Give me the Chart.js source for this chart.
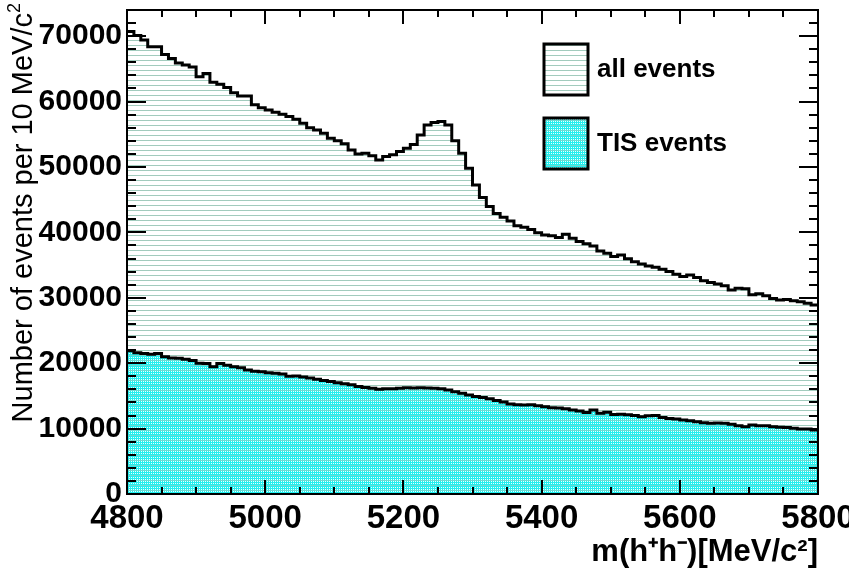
<!DOCTYPE html>
<html><head><meta charset="utf-8">
<script src="https://cdn.jsdelivr.net/npm/chart.js@4/dist/chart.umd.min.js"></script>
<style>html,body{margin:0;padding:0;background:#fff;} canvas{display:block;}</style>
</head><body>
<canvas id="c" width="849" height="575"></canvas>
<script>
// ---- data ----
const binLowEdges = Array.from({length: 100}, (_, i) => 4800 + 10 * i); // 10 MeV bins
const massMax = 5800;
const allEvents = [
  70700, 70100, 69400, 68400, 68400, 67200, 66600, 65900, 65600, 65300,
  63800, 64300, 62950, 62650, 62150, 61350, 60850, 60850, 59500, 59050,
  58700, 58350, 58050, 57700, 57300, 56700, 56000, 55650, 55150, 54400,
  54000, 53550, 52600, 52000, 52100, 51700, 51050, 51600, 51850, 52350,
  52850, 53450, 54900, 56400, 56800, 56950, 56400, 54000, 52100, 49800,
  47250, 45350, 43950, 42900, 42300, 41750, 41000, 40800, 40450, 39950,
  39600, 39500, 39200, 39700, 39100, 38600, 38250, 37900, 37150, 36800,
  36300, 36550, 35950, 35500, 35150, 34850, 34650, 34350, 34000, 33600,
  33250, 33500, 33100, 32600, 32350, 32100, 31850, 31200, 31450, 31400,
  30450, 30600, 30300, 29900, 29650, 29750, 29550, 29400, 29150, 28900
];
const tisEvents = [
  21900, 21600, 21500, 21350, 21500, 21000, 20800, 20750, 20600, 20400,
  20000, 19950, 19450, 19950, 19700, 19450, 19300, 18950, 18750, 18700,
  18550, 18450, 18350, 18000, 18050, 17900, 17750, 17550, 17350, 17200,
  17000, 16850, 16700, 16450, 16300, 16150, 16000, 16100, 16100, 16150,
  16250, 16200, 16250, 16200, 16150, 16100, 15900, 15650, 15400, 15150,
  14900, 14750, 14550, 14300, 14050, 13750, 13650, 13600, 13650, 13500,
  13350, 13200, 13150, 13050, 12850, 12700, 12450, 12850, 12350, 12500,
  12150, 12200, 12100, 12000, 11800, 11950, 12000, 11700, 11550, 11450,
  11300, 11200, 11050, 10900, 10800, 10850, 10800, 10650, 10450, 10300,
  10550, 10450, 10450, 10300, 10200, 10150, 10050, 9950, 9950, 9800
];
const xTickValues = [4800, 5000, 5200, 5400, 5600, 5800];
const yTickValues = [0, 10000, 20000, 30000, 40000, 50000, 60000, 70000];
const seriesNames = ['all events', 'TIS events'];
const xTitle = 'm(h\u207Ah\u207B)[MeV/c\u00B2]';
const yTitleMain = 'Number of events per 10 MeV/c';
const yTitleSup = '2';

// ---- styling ----
const FONT = '"Liberation Sans", Arial, Helvetica, sans-serif';
const canvas = document.getElementById('c');
const ctx = canvas.getContext('2d');

function makeHatch() {
  const c = document.createElement('canvas'); c.width = 10; c.height = 10;
  const g = c.getContext('2d');
  g.fillStyle = '#a2cbbd';
  g.fillRect(0, 0, 10, 1); g.fillRect(0, 5, 10, 1);
  return ctx.createPattern(c, 'repeat');
}
function makeDots() {
  // opaque tile: cyan with fine white dots, green hatch rows showing through
  const c = document.createElement('canvas'); c.width = 10; c.height = 10;
  const g = c.getContext('2d');
  g.fillStyle = '#22f0f0'; g.fillRect(0, 0, 10, 10);
  g.fillStyle = '#e8ffff';
  for (let yy = 1; yy < 10; yy += 2) {
    if (yy === 5) continue;
    for (let xx = 1; xx < 10; xx += 2) g.fillRect(xx, yy, 1, 1);
  }
  g.fillStyle = '#6fd9d0';
  g.fillRect(0, 0, 10, 1); g.fillRect(0, 5, 10, 1);
  return ctx.createPattern(c, 'repeat');
}
const hatchPat = makeHatch();
const dotsPat = makeDots();

function toSteps(values) {
  const pts = binLowEdges.map((x, i) => ({x, y: values[i]}));
  pts.push({x: massMax, y: values[values.length - 1]});
  return pts;
}

const rootFrame = {
  id: 'rootFrame',
  afterDatasetsDraw(chart) {
    const {ctx, chartArea: a, scales: {x, y}} = chart;
    ctx.save();
    ctx.strokeStyle = '#000'; ctx.lineWidth = 2;
    ctx.beginPath();
    for (let v = 0; v <= y.max; v += 2000) {
      const py = Math.round(y.getPixelForValue(v));
      const len = (v % 10000 === 0) ? 19 : 9;
      ctx.moveTo(a.left, py); ctx.lineTo(a.left + len, py);
      ctx.moveTo(a.right, py); ctx.lineTo(a.right - len, py);
    }
    for (let v = x.min; v <= x.max; v += 50) {
      const px = Math.round(x.getPixelForValue(v));
      const len = ((v - 4800) % 200 === 0) ? 14 : 7;
      ctx.moveTo(px, a.bottom); ctx.lineTo(px, a.bottom - len);
      ctx.moveTo(px, a.top); ctx.lineTo(px, a.top + len);
    }
    ctx.stroke();
    ctx.strokeRect(a.left, a.top, a.right - a.left, a.bottom - a.top);
    ctx.restore();
  },
  afterDraw(chart) {
    const {ctx} = chart;
    ctx.save();
    // legend
    const boxes = [
      {y: 44, pat: hatchPat, text: seriesNames[0]},
      {y: 118, pat: dotsPat, text: seriesNames[1]}
    ];
    boxes.forEach(b => {
      ctx.fillStyle = '#fff'; ctx.fillRect(544, b.y, 44, 51);
      ctx.fillStyle = b.pat; ctx.fillRect(544, b.y, 44, 51);
      ctx.strokeStyle = '#000'; ctx.lineWidth = 3;
      ctx.strokeRect(544, b.y, 44, 51);
      ctx.fillStyle = '#000';
      ctx.font = 'bold 26px ' + FONT;
      ctx.textBaseline = 'middle'; ctx.textAlign = 'left';
      ctx.fillText(b.text, 597, b.y + 26);
    });
    // y-axis title (rotated, with superscript)
    ctx.translate(24, 3);
    ctx.rotate(-Math.PI / 2);
    ctx.fillStyle = '#000';
    ctx.textBaseline = 'middle'; ctx.textAlign = 'left';
    ctx.font = '18px ' + FONT;
    const ws = ctx.measureText(yTitleSup).width;
    ctx.font = '29px ' + FONT;
    const wm = ctx.measureText(yTitleMain).width;
    ctx.fillText(yTitleMain, -(wm + ws), 0);
    ctx.font = '18px ' + FONT;
    ctx.fillText(yTitleSup, -ws, -9);
    ctx.restore();
  }
};

new Chart(ctx, {
  type: 'line',
  data: {
    datasets: [
      {label: seriesNames[1], data: toSteps(tisEvents), stepped: true,
       borderColor: '#000', borderWidth: 3, backgroundColor: dotsPat, fill: 'origin',
       pointRadius: 0, borderJoinStyle: 'miter', borderCapStyle: 'butt'},
      {label: seriesNames[0], data: toSteps(allEvents), stepped: true,
       borderColor: '#000', borderWidth: 3, backgroundColor: hatchPat, fill: 'origin',
       pointRadius: 0, borderJoinStyle: 'miter', borderCapStyle: 'butt'}
    ]
  },
  options: {
    responsive: false, animation: false, devicePixelRatio: 1,
    layout: {padding: {left: 0, right: 31, top: 10, bottom: 0}, autoPadding: false},
    plugins: {legend: {display: false}, tooltip: {enabled: false}},
    scales: {
      x: {
        type: 'linear', min: 4800, max: 5800,
        grid: {display: false, drawTicks: false, tickLength: 0}, border: {display: false},
        afterBuildTicks: s => { s.ticks = xTickValues.map(v => ({value: v})); },
        ticks: {autoSkip: false, maxRotation: 0, padding: 5, color: '#000',
                font: {family: FONT, size: 33, weight: 'bold'}, callback: v => String(v)},
        title: {display: true, text: xTitle, align: 'end', color: '#000',
                font: {family: FONT, size: 31, weight: 'bold'}, padding: {top: 0, bottom: 4}},
        afterFit: s => { s.height = 81; s.paddingLeft = 0; s.paddingRight = 0; }
      },
      y: {
        type: 'linear', min: 0, max: 74000,
        grid: {display: false, drawTicks: false, tickLength: 0}, border: {display: false},
        afterBuildTicks: s => { s.ticks = yTickValues.map(v => ({value: v})); },
        ticks: {autoSkip: false, padding: 5, color: '#000',
                font: {family: FONT, size: 30, weight: 'bold'}, callback: v => String(v)},
        title: {display: false},
        afterFit: s => { s.width = 127; s.paddingTop = 0; s.paddingBottom = 0; }
      }
    }
  },
  plugins: [rootFrame]
});
</script>
</body></html>
